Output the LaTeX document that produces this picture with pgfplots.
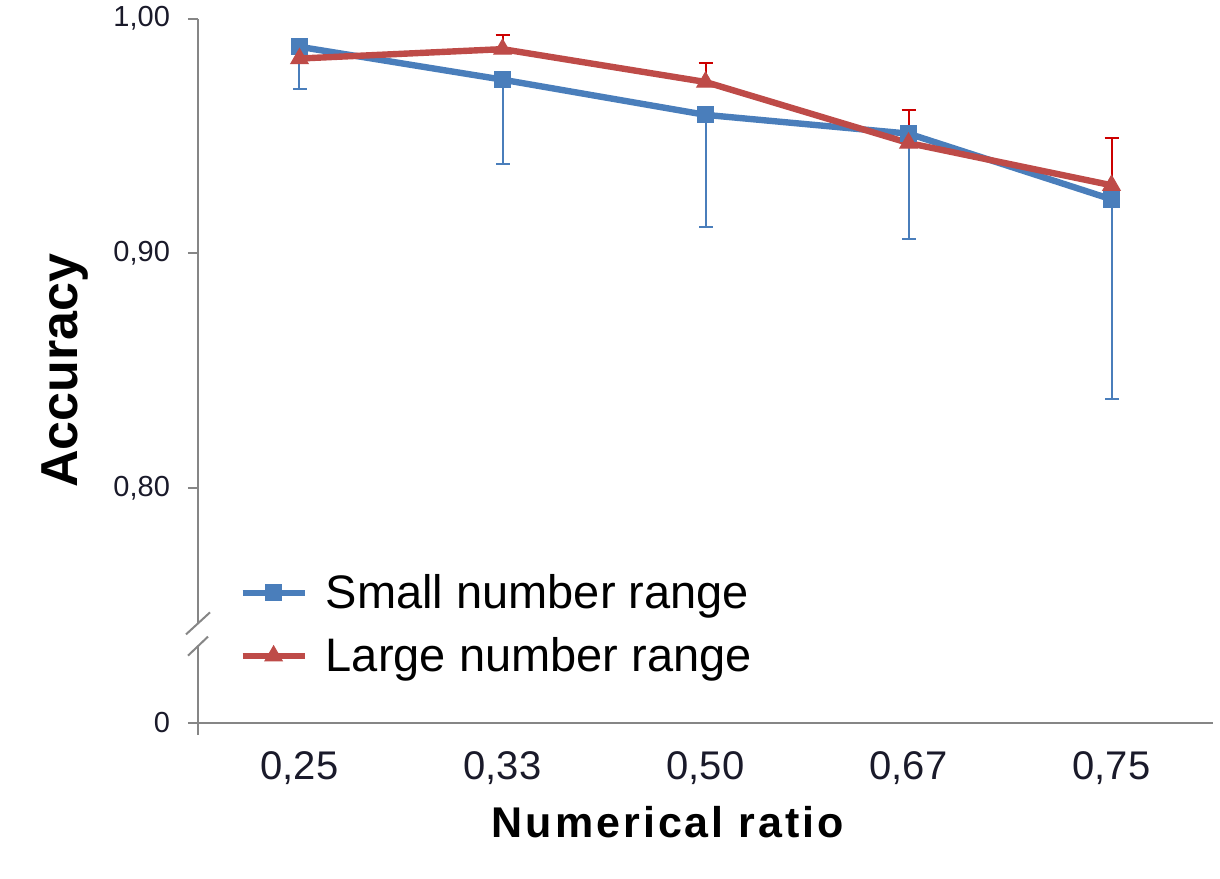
\documentclass[border=0pt]{standalone}
\usepackage{fontspec}
\setmainfont{Liberation Sans}
\usepackage{pgfplots}
\pgfplotsset{compat=1.18}
\definecolor{blueS}{HTML}{4A7EBB}
\definecolor{redL}{HTML}{BE4B48}
\definecolor{redE}{HTML}{CC0000}
\definecolor{axgray}{HTML}{868686}
\definecolor{tickc}{HTML}{1A1A2A}
\begin{document}
\begin{tikzpicture}
\path (-99pt,-78pt) rectangle (511pt,360pt);
\begin{axis}[
  at={(0,0)}, anchor=south west,
  scale only axis, width=507.5pt, height=352pt,
  xmin=-0.5, xmax=4.5, ymin=0.70, ymax=1.00,
  axis x line*=bottom, axis y line*=left,
  axis line style={axgray, line width=1pt},
  xtick={0,1,2,3,4},
  xticklabels={{0,25},{0,33},{0,50},{0,67},{0,75}},
  xtick style={draw=none},
  xticklabel style={font=\fontsize{20}{24}\selectfont, text=tickc, yshift=-6pt},
  ytick={0.7,0.8,0.9,1.0},
  yticklabels={{0},{0,80},{0,90},{1,00}},
  ytick style={axgray, line width=1pt},
  yticklabel style={font=\fontsize{14.5}{16}\selectfont, text=tickc, xshift=-5.5pt},
  tick align=outside, major tick length=5pt,
  clip=false,
  xlabel={Numerical ratio},
  xlabel style={font=\fontsize{21.5}{24}\selectfont\bfseries\addfontfeature{LetterSpace=7}, at={(axis description cs:0.463,-0.142)}, anchor=center},
  ylabel={Accuracy},
  ylabel style={font=\fontsize{26}{30}\selectfont\bfseries, at={(axis description cs:-0.131,0.5)}, anchor=center, rotate=0},
  legend style={draw=none, fill=none, at={(axis description cs:0.0404,0.217)}, anchor=north west,
    inner sep=0pt, font=\fontsize{23.5}{28}\selectfont, row sep=9pt,
    /tikz/every odd column/.append style={column sep=7pt}},
  legend cell align=left,
  legend image code/.code={\draw[mark repeat=2,mark phase=2,#1] plot coordinates {(0pt,0pt) (15.5pt,0pt) (31pt,0pt)};},
]
\addplot[blueS, line width=3.2pt, mark=square*, mark size=4pt, mark options={solid, fill=blueS, line width=0.5pt},
  error bars/.cd, y dir=minus, y explicit,
  error bar style={line width=1pt, blueS},
  error mark options={rotate=90, mark size=3.5pt, line width=1pt, blueS}]
coordinates {
(0,0.988) +- (0,0.018)
(1,0.974) +- (0,0.036)
(2,0.959) +- (0,0.048)
(3,0.951) +- (0,0.045)
(4,0.923) +- (0,0.085)
};
\addlegendentry{Small number range}
\addplot[redL, line width=3.2pt, mark=triangle*, mark size=5pt, mark options={solid, fill=redL, line width=0.5pt},
  error bars/.cd, y dir=plus, y explicit,
  error bar style={line width=1pt, redE},
  error mark options={rotate=90, mark size=3.5pt, line width=1pt, redE}]
coordinates {
(0,0.983) +- (0,0.002)
(1,0.987) +- (0,0.006)
(2,0.973) +- (0,0.008)
(3,0.947) +- (0,0.014)
(4,0.929) +- (0,0.020)
};
\addlegendentry{Large number range}
\fill[white] ([xshift=-4pt]axis cs:-0.5,0.7326) rectangle ([xshift=4pt]axis cs:-0.5,0.7423);
\draw[axgray, line width=1pt] ([xshift=-6pt,yshift=-5.5pt]axis cs:-0.5,0.7423) -- ([xshift=6pt,yshift=5.5pt]axis cs:-0.5,0.7423);
\draw[axgray, line width=1pt] ([xshift=-5pt,yshift=-4.75pt]axis cs:-0.5,0.7326) -- ([xshift=5pt,yshift=4.75pt]axis cs:-0.5,0.7326);
\draw[axgray, line width=1pt] (axis cs:-0.5,0.7) -- ([yshift=-6pt]axis cs:-0.5,0.7);
\end{axis}
\end{tikzpicture}
\end{document}
